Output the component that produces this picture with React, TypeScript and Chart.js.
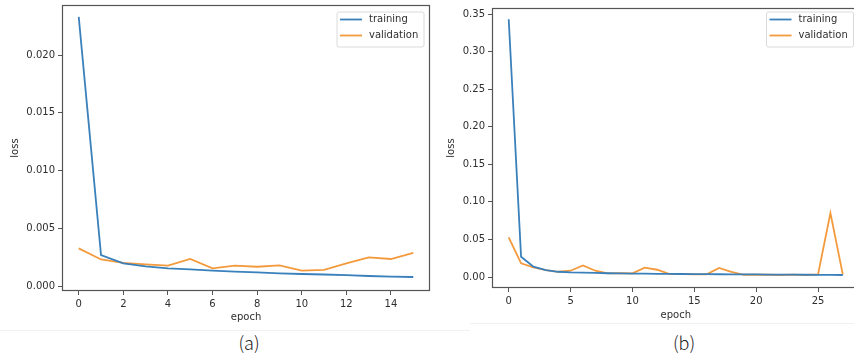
import React, { useEffect, useRef } from 'react';
import { Chart, registerables } from 'chart.js';

Chart.register(...registerables);

// ---------- data ----------
const seriesNames = ['training', 'validation'];

const epochsA = [0, 1, 2, 3, 4, 5, 6, 7, 8, 9, 10, 11, 12, 13, 14, 15];
const trainA = [0.0233, 0.00268, 0.00196, 0.0017, 0.00153, 0.00145, 0.00133, 0.00125, 0.00118, 0.0011, 0.00104, 0.001, 0.00095, 0.00087, 0.00081, 0.00078];
const valA = [0.00326, 0.0023, 0.002, 0.00188, 0.00176, 0.00234, 0.00153, 0.00176, 0.00167, 0.00179, 0.00133, 0.00139, 0.00196, 0.00248, 0.00234, 0.00288];
const xTicksA = [0, 2, 4, 6, 8, 10, 12, 14];
const yTicksA = [0, 0.005, 0.01, 0.015, 0.02];

const epochsB = [0, 1, 2, 3, 4, 5, 6, 7, 8, 9, 10, 11, 12, 13, 14, 15, 16, 17, 18, 19, 20, 21, 22, 23, 24, 25, 26, 27];
const trainB = [0.343, 0.027, 0.0137, 0.0093, 0.007, 0.0062, 0.0058, 0.0054, 0.005, 0.0048, 0.0046, 0.0044, 0.0043, 0.0041, 0.004, 0.0039, 0.0038, 0.0037, 0.0036, 0.0035, 0.0034, 0.0033, 0.0032, 0.0031, 0.003, 0.0029, 0.0028, 0.0027];
const valB = [0.0528, 0.0182, 0.0129, 0.0093, 0.007, 0.0084, 0.0155, 0.0084, 0.0049, 0.005, 0.0049, 0.0124, 0.0097, 0.004, 0.004, 0.0036, 0.0036, 0.012, 0.007, 0.003, 0.003, 0.003, 0.0027, 0.0033, 0.0027, 0.0035, 0.085, 0.0035];
const xTicksB = [0, 5, 10, 15, 20, 25];
const yTicksB = [0, 0.05, 0.1, 0.15, 0.2, 0.25, 0.3, 0.35];

const panelLabels = ['(a)', '(b)'];

// ---------- styles ----------
const BLUE = '#3a80bb';
const ORANGE = '#f39a3d';
const AXIS = '#555555';
const TEXT = '#2e2e2e';

const framePlugin = {
  id: 'frame',
  afterDatasetsDraw(chart: any) {
    const { ctx, chartArea: a } = chart;
    ctx.save();
    ctx.strokeStyle = AXIS;
    ctx.lineWidth = 1.2;
    const l = Math.round(a.left) + 0.5;
    const t = Math.round(a.top) + 0.5;
    const r = Math.round(a.right) - 0.5;
    const b = Math.round(a.bottom) - 0.5;
    ctx.strokeRect(l, t, r - l, b - t);
    ctx.restore();
  },
};

const legendPlugin = {
  id: 'boxLegend',
  afterDraw(chart: any) {
    const { ctx, chartArea: a } = chart;
    const w = 87;
    const h = 35;
    const x = a.right - 6 - w;
    const y = a.top + (chart.$legendTop ?? 7);
    ctx.save();
    ctx.beginPath();
    const rr = 2;
    ctx.moveTo(x + rr, y);
    ctx.lineTo(x + w - rr, y);
    ctx.quadraticCurveTo(x + w, y, x + w, y + rr);
    ctx.lineTo(x + w, y + h - rr);
    ctx.quadraticCurveTo(x + w, y + h, x + w - rr, y + h);
    ctx.lineTo(x + rr, y + h);
    ctx.quadraticCurveTo(x, y + h, x, y + h - rr);
    ctx.lineTo(x, y + rr);
    ctx.quadraticCurveTo(x, y, x + rr, y);
    ctx.closePath();
    ctx.fillStyle = 'rgba(255,255,255,0.85)';
    ctx.fill();
    ctx.strokeStyle = '#dadada';
    ctx.lineWidth = 1;
    ctx.stroke();
    chart.data.datasets.forEach((ds: any, i: number) => {
      const ly = y + 7.5 + i * 16;
      ctx.strokeStyle = ds.borderColor;
      ctx.lineWidth = 1.8;
      ctx.beginPath();
      ctx.moveTo(x + 3, ly);
      ctx.lineTo(x + 25, ly);
      ctx.stroke();
      ctx.fillStyle = TEXT;
      ctx.font = '10px "DejaVu Sans"';
      ctx.textBaseline = 'middle';
      ctx.textAlign = 'left';
      ctx.fillText(ds.label, x + 32, ly);
    });
    ctx.restore();
  },
};

type Cfg = {
  epochs: number[];
  train: number[];
  val: number[];
  xTicks: number[];
  yTicks: number[];
  decimals: number;
  xMin: number;
  xMax: number;
  yMin: number;
  yMax: number;
  padding: { left: number; top: number; right: number; bottom: number };
  yWidth: number;
  xHeight: number;
};

function zeroPad(s: any) {
  s.paddingLeft = 0;
  s.paddingRight = 0;
  s.paddingTop = 0;
  s.paddingBottom = 0;
}

function makeConfig(c: Cfg): any {
  return {
    type: 'line',
    data: {
      datasets: [
        {
          label: seriesNames[0],
          data: c.epochs.map((e, i) => ({ x: e, y: c.train[i] })),
          borderColor: BLUE,
          backgroundColor: BLUE,
          borderWidth: 1.8,
          pointRadius: 0,
          tension: 0,
          fill: false,
        },
        {
          label: seriesNames[1],
          data: c.epochs.map((e, i) => ({ x: e, y: c.val[i] })),
          borderColor: ORANGE,
          backgroundColor: ORANGE,
          borderWidth: 1.8,
          pointRadius: 0,
          tension: 0,
          fill: false,
        },
      ],
    },
    options: {
      animation: false,
      responsive: false,
      devicePixelRatio: 1,
      layout: { padding: c.padding },
      plugins: { legend: { display: false }, tooltip: { enabled: false } },
      font: { family: '"DejaVu Sans"', size: 10 },
      scales: {
        x: {
          type: 'linear',
          min: c.xMin,
          max: c.xMax,
          afterBuildTicks: (s: any) => {
            s.ticks = c.xTicks.map((v) => ({ value: v }));
          },
          afterFit: (s: any) => {
            s.height = c.xHeight;
            zeroPad(s);
          },
          grid: { display: true, drawOnChartArea: false, drawTicks: true, tickLength: 4, color: AXIS, lineWidth: 1 },
          border: { display: false },
          ticks: {
            padding: 3,
            color: TEXT,
            font: { family: '"DejaVu Sans"', size: 10 },
            maxRotation: 0,
            autoSkip: false,
            callback: (v: any) => String(v),
          },
          title: {
            display: true,
            text: 'epoch',
            color: TEXT,
            font: { family: '"DejaVu Sans"', size: 10 },
            padding: { top: 4, bottom: 4 },
          },
        },
        y: {
          type: 'linear',
          min: c.yMin,
          max: c.yMax,
          afterBuildTicks: (s: any) => {
            s.ticks = c.yTicks.map((v) => ({ value: v }));
          },
          afterFit: (s: any) => {
            s.width = c.yWidth;
            zeroPad(s);
          },
          grid: { display: true, drawOnChartArea: false, drawTicks: true, tickLength: 4, color: AXIS, lineWidth: 1 },
          border: { display: false },
          ticks: {
            padding: 3,
            color: TEXT,
            font: { family: '"DejaVu Sans"', size: 10 },
            autoSkip: false,
            callback: (v: any) => Number(v).toFixed(c.decimals),
          },
          title: {
            display: true,
            text: 'loss',
            color: TEXT,
            font: { family: '"DejaVu Sans"', size: 10 },
            padding: { top: 4, bottom: 4 },
          },
        },
      },
    },
    plugins: [framePlugin, legendPlugin],
  };
}

export default function App() {
  const refA = useRef<HTMLCanvasElement>(null);
  const refB = useRef<HTMLCanvasElement>(null);

  useEffect(() => {
    const chartA = new Chart(
      refA.current as HTMLCanvasElement,
      makeConfig({
        epochs: epochsA,
        train: trainA,
        val: valA,
        xTicks: xTicksA,
        yTicks: yTicksA,
        decimals: 3,
        xMin: -0.75,
        xMax: 15.75,
        yMin: -0.00043,
        yMax: 0.02433,
        padding: { left: 5, top: 5, right: 2, bottom: 0 },
        yWidth: 57,
        xHeight: 36,
      })
    );
    (chartA as any).$legendTop = 7;
    chartA.draw();
    const chartB = new Chart(
      refB.current as HTMLCanvasElement,
      makeConfig({
        epochs: epochsB,
        train: trainB,
        val: valB,
        xTicks: xTicksB,
        yTicks: yTicksB,
        decimals: 2,
        xMin: -1.35,
        xMax: 28.35,
        yMin: -0.0146,
        yMax: 0.358,
        padding: { left: 9, top: 8, right: 4.5, bottom: 0 },
        yWidth: 51,
        xHeight: 37,
      })
    );
    (chartB as any).$legendTop = 4;
    chartB.draw();
    return () => {
      chartA.destroy();
      chartB.destroy();
    };
  }, []);

  const labelStyle = (cx: number): React.CSSProperties => ({
    position: 'absolute',
    left: cx - 30,
    width: 60,
    top: 331,
    height: 22,
    lineHeight: '22px',
    textAlign: 'center',
    fontFamily: '"Noto Sans CJK JP", "Noto Sans", sans-serif',
    fontWeight: 300,
    fontSize: 18,
    color: '#222',
  });

  return (
    <div
      style={{
        position: 'absolute',
        left: 0,
        top: 0,
        width: 854,
        height: 356,
        overflow: 'hidden',
        background: '#ffffff',
      }}
    >
      <canvas ref={refA} width={432} height={327} style={{ position: 'absolute', left: 0, top: 0 }} />
      <canvas ref={refB} width={432} height={325} style={{ position: 'absolute', left: 432, top: 0 }} />
      <div style={{ position: 'absolute', left: 0, top: 330, width: 470, height: 1, background: '#f1f1f1' }} />
      <div style={{ position: 'absolute', left: 470, top: 323, width: 384, height: 1, background: '#f1f1f1' }} />
      <div style={labelStyle(249)}>{panelLabels[0]}</div>
      <div style={labelStyle(684)}>{panelLabels[1]}</div>
    </div>
  );
}
